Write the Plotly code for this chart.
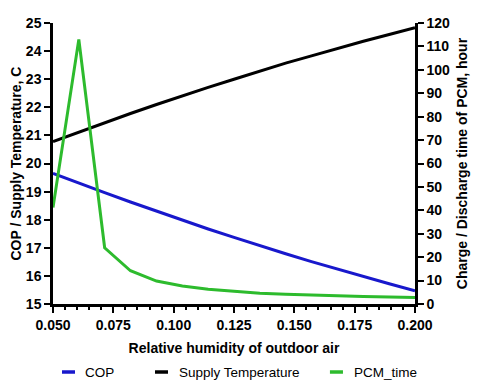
import plotly.graph_objects as go

# ------------------------------------------------------------------
# data
# ------------------------------------------------------------------
humidity = [0.05, 0.0607, 0.0714, 0.0821, 0.0929, 0.1036, 0.1143, 0.125,
            0.1357, 0.1464, 0.1571, 0.1679, 0.1786, 0.1893, 0.2]

cop = [19.65, 19.30, 18.96, 18.63, 18.30, 17.98, 17.67, 17.37,
       17.07, 16.79, 16.51, 16.24, 15.97, 15.72, 15.47]

supply_temp = [20.78, 21.12, 21.46, 21.78, 22.10, 22.41, 22.71, 23.00,
               23.29, 23.57, 23.83, 24.10, 24.35, 24.59, 24.83]

pcm_time = [41.2, 113.0, 24.0, 14.2, 9.8, 7.7, 6.3, 5.3,
            4.6, 4.2, 3.8, 3.5, 3.2, 3.0, 2.8]

x_ticks = [0.05, 0.075, 0.1, 0.125, 0.15, 0.175, 0.2]

COLORS = {
    'COP': '#1818CC',
    'Supply Temperature': '#000000',
    'PCM_time': '#2DBB2D',
}

FONT = 'Liberation Sans, Arial, sans-serif'
TICKFONT = dict(family=FONT, size=14, color='black', weight='bold')
TITLEFONT = dict(family=FONT, size=14, color='black', weight='bold')

fig = go.Figure()
fig.add_trace(go.Scatter(x=humidity, y=cop, name='COP', mode='lines',
                         line=dict(color=COLORS['COP'], width=3)))
fig.add_trace(go.Scatter(x=humidity, y=supply_temp, name='Supply Temperature', mode='lines',
                         line=dict(color=COLORS['Supply Temperature'], width=3)))
fig.add_trace(go.Scatter(x=humidity, y=pcm_time, name='PCM_time', mode='lines',
                         line=dict(color=COLORS['PCM_time'], width=3), yaxis='y2'))

# hand-built legend (short line symbols like the original)
legend_items = [('COP', 0.0249, 0.0608, 0.0829),
                ('Supply Temperature', 0.2818, 0.3177, 0.3425),
                ('PCM_time', 0.765, 0.801, 0.826)]
leg_y = -0.242
for name, x0, x1, xt in legend_items:
    fig.add_shape(type='line', xref='paper', yref='paper', x0=x0, x1=x1, y0=leg_y, y1=leg_y,
                  line=dict(color=COLORS[name], width=3.5))
    fig.add_annotation(xref='paper', yref='paper', x=xt, y=leg_y, text=name,
                       showarrow=False, xanchor='left', yanchor='middle',
                       font=dict(family=FONT, size=13.5, color='black'))

AXIS_STYLE = dict(
    showgrid=False, zeroline=False, automargin=False,
    showline=True, linecolor='black', linewidth=2.5,
    ticks='outside', ticklen=6, tickwidth=2, tickcolor='black',
    tickfont=TICKFONT,
)

# page body has an 8px margin, so the figure is sized/offset to compensate
fig.update_layout(
    width=472, height=380,
    margin=dict(l=45, r=65, t=15, b=84),
    plot_bgcolor='white', paper_bgcolor='white',
    showlegend=False,
    font=dict(family=FONT, color='black'),
    xaxis=dict(
        range=[0.05, 0.2], tickvals=x_ticks, tickformat='.3f',
        minor=dict(dtick=0.005, tick0=0.05, ticks='outside', ticklen=3, tickwidth=1.5, tickcolor='black'),
        title=dict(text='Relative humidity of outdoor air', font=TITLEFONT, standoff=12),
        **AXIS_STYLE,
    ),
    yaxis=dict(
        range=[15, 25], dtick=1,
        title=dict(text='COP / Supply Temperature, C', font=TITLEFONT, standoff=4),
        **AXIS_STYLE,
    ),
    yaxis2=dict(
        range=[0, 120], dtick=10, overlaying='y', side='right',
        title=dict(text='Charge / Discharge time of PCM, hour', font=TITLEFONT, standoff=9),
        **AXIS_STYLE,
    ),
)

fig.write_html('out.html')
